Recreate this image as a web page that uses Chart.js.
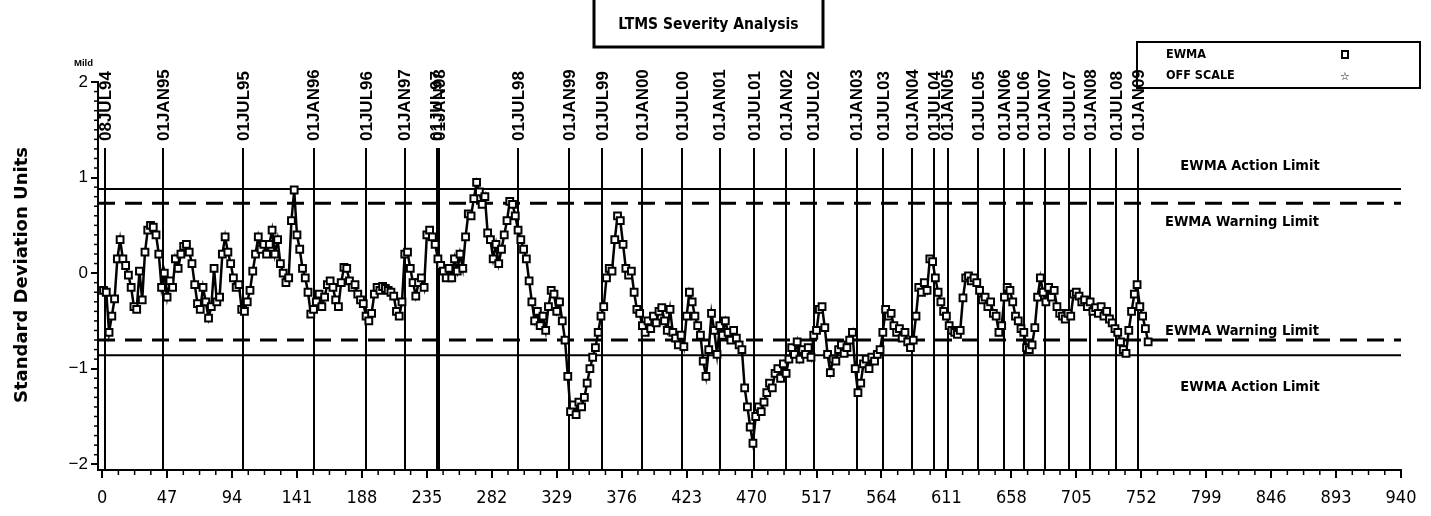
<!DOCTYPE html>
<html>
<head>
<meta charset="utf-8">
<script src="https://cdn.jsdelivr.net/npm/chart.js@4.4.1/dist/chart.umd.min.js"></script>
<style>
  html, body { margin: 0; padding: 0; background: #fff; }
  #wrap { width: 1431px; height: 516px; }
</style>
</head>
<body>
<div id="wrap"><canvas id="ewmaChart" width="1431" height="516"></canvas></div>
<script>
// EWMA severity, every other test (first test = 1)
const firstTest = 1;
const testStep = 2;
const ewma = [
  -0.18, -0.20, -0.62, -0.45, -0.27, 0.15, 0.35, 0.15, 0.08, -0.02,
  -0.15, -0.35, -0.38, 0.02, -0.28, 0.22, 0.45, 0.50, 0.48, 0.40,
  0.20, -0.15, 0.00, -0.25, -0.08, -0.15, 0.15, 0.05, 0.20, 0.28,
  0.30, 0.22, 0.10, -0.12, -0.32, -0.38, -0.15, -0.30, -0.47, -0.35,
  0.05, -0.30, -0.25, 0.20, 0.38, 0.22, 0.10, -0.05, -0.15, -0.12,
  -0.38, -0.40, -0.30, -0.18, 0.02, 0.20, 0.38, 0.25, 0.30, 0.20,
  0.30, 0.45, 0.20, 0.35, 0.10, 0.00, -0.10, -0.05, 0.55, 0.87,
  0.40, 0.25, 0.05, -0.05, -0.20, -0.43, -0.38, -0.30, -0.22, -0.35,
  -0.25, -0.12, -0.08, -0.15, -0.28, -0.35, -0.10, 0.06, 0.05, -0.08,
  -0.15, -0.12, -0.22, -0.28, -0.32, -0.45, -0.50, -0.42, -0.22, -0.15,
  -0.18, -0.14, -0.16, -0.18, -0.20, -0.24, -0.40, -0.45, -0.30, 0.20,
  0.22, 0.05, -0.10, -0.24, -0.10, -0.05, -0.15, 0.40, 0.45, 0.38,
  0.30, 0.15, 0.08, 0.02, -0.05, 0.05, -0.05, 0.15, 0.02, 0.20,
  0.05, 0.38, 0.62, 0.60, 0.78, 0.95, 0.85, 0.72, 0.80, 0.42,
  0.35, 0.15, 0.30, 0.10, 0.25, 0.40, 0.55, 0.75, 0.72, 0.60,
  0.45, 0.35, 0.25, 0.15, -0.08, -0.30, -0.50, -0.40, -0.55, -0.45,
  -0.60, -0.35, -0.18, -0.22, -0.40, -0.30, -0.50, -0.70, -1.08, -1.45,
  -1.38, -1.48, -1.35, -1.40, -1.30, -1.15, -1.00, -0.88, -0.78, -0.62,
  -0.45, -0.35, -0.05, 0.05, 0.02, 0.35, 0.60, 0.55, 0.30, 0.05,
  -0.02, 0.02, -0.20, -0.38, -0.42, -0.55, -0.62, -0.50, -0.58, -0.45,
  -0.52, -0.40, -0.36, -0.50, -0.60, -0.38, -0.62, -0.68, -0.75, -0.65,
  -0.77, -0.45, -0.20, -0.30, -0.45, -0.55, -0.65, -0.92, -1.08, -0.80,
  -0.42, -0.60, -0.85, -0.55, -0.65, -0.50, -0.62, -0.70, -0.60, -0.68,
  -0.75, -0.80, -1.20, -1.40, -1.61, -1.78, -1.50, -1.40, -1.45, -1.35,
  -1.25, -1.15, -1.20, -1.05, -1.00, -1.10, -0.95, -1.05, -0.90, -0.78,
  -0.85, -0.72, -0.90, -0.80, -0.85, -0.78, -0.88, -0.65, -0.60, -0.38,
  -0.35, -0.57, -0.85, -1.04, -0.90, -0.92, -0.80, -0.75, -0.84, -0.78,
  -0.70, -0.62, -1.00, -1.25, -1.15, -0.95, -0.90, -1.00, -0.88, -0.92,
  -0.85, -0.80, -0.62, -0.38, -0.45, -0.42, -0.55, -0.62, -0.58, -0.68,
  -0.62, -0.72, -0.78, -0.70, -0.45, -0.15, -0.20, -0.10, -0.18, 0.15,
  0.12, -0.05, -0.20, -0.30, -0.40, -0.45, -0.55, -0.60, -0.62, -0.64,
  -0.60, -0.26, -0.05, -0.03, -0.08, -0.05, -0.10, -0.18, -0.28, -0.25,
  -0.35, -0.30, -0.42, -0.45, -0.62, -0.55, -0.25, -0.15, -0.18, -0.30,
  -0.45, -0.50, -0.58, -0.62, -0.78, -0.80, -0.75, -0.57, -0.25, -0.05,
  -0.20, -0.30, -0.15, -0.25, -0.18, -0.35, -0.42, -0.45, -0.48, -0.42,
  -0.45, -0.22, -0.20, -0.24, -0.30, -0.28, -0.35, -0.30, -0.40, -0.36,
  -0.42, -0.35, -0.45, -0.40, -0.48, -0.52, -0.58, -0.62, -0.72, -0.80,
  -0.84, -0.60, -0.40, -0.22, -0.12, -0.35, -0.45, -0.58, -0.72
];

const xTickValues = [0, 47, 94, 141, 188, 235, 282, 329, 376, 423, 470,
  517, 564, 611, 658, 705, 752, 799, 846, 893, 940];
const yTickValues = [-2, -1, 0, 1, 2];

const actionLimits = [0.88, -0.86];
const warningLimits = [0.73, -0.70];

const dateLabels = ['08JUL94', '01JAN95', '01JUL95', '01JAN96', '01JUL96', '01JAN97',
  '01JUL97', '01JAN98', '01JUL98', '01JAN99', '01JUL99', '01JAN00', '01JUL00',
  '01JAN01', '01JUL01', '01JAN02', '01JUL02', '01JAN03', '01JUL03', '01JAN04',
  '01JUL04', '01JAN05', '01JUL05', '01JAN06', '01JUL06', '01JAN07', '01JUL07',
  '01JAN08', '01JUL08', '01JAN09'];
const dateTests = [2, 44, 102, 153, 191, 219, 242, 244, 301, 338, 362, 391, 420,
  447, 472, 495, 515, 546, 565, 586, 602, 612, 634, 653, 667, 682, 700,
  715, 734, 750];

const NARROW = '"Liberation Sans Narrow", "DejaVu Sans Condensed", sans-serif';
const SANS = '"Liberation Sans", Arial, sans-serif';

const points = ewma.map((v, i) => ({ x: firstTest + i * testStep, y: v }));

function hline(ctx, area, y, width, dash) {
    ctx.save();
    ctx.lineWidth = width;
    ctx.setLineDash(dash);
    ctx.beginPath();
    ctx.moveTo(area.left, y);
    ctx.lineTo(area.right, y);
    ctx.stroke();
    ctx.restore();
}

const sasDecor = {
    id: 'sasDecor',
    beforeDatasetsDraw(chart) {
        const { ctx, chartArea: area, scales: { x, y } } = chart;
        ctx.save();
        ctx.strokeStyle = '#000';

        // limit lines
        actionLimits.forEach(v => hline(ctx, area, y.getPixelForValue(v), 2, []));
        warningLimits.forEach(v => hline(ctx, area, y.getPixelForValue(v), 3, [17, 10]));

        // date reference lines
        ctx.lineWidth = 2;
        dateTests.forEach(t => {
            const px = Math.round(x.getPixelForValue(t));
            ctx.beginPath();
            ctx.moveTo(px, 148);
            ctx.lineTo(px, area.bottom);
            ctx.stroke();
        });

        // minor ticks
        ctx.lineWidth = 1.5;
        for (let i = -20; i <= 20; i++) {
            if (i % 10 === 0) continue;
            const py = y.getPixelForValue(i / 10);
            ctx.beginPath();
            ctx.moveTo(area.left - 4, py);
            ctx.lineTo(area.left, py);
            ctx.stroke();
        }
        for (let i = 0; i <= 80; i++) {
            if (i % 4 === 0) continue;
            const px = x.getPixelForValue(i * 11.75);
            ctx.beginPath();
            ctx.moveTo(px, area.bottom);
            ctx.lineTo(px, area.bottom + 5);
            ctx.stroke();
        }
        ctx.restore();
    },
    afterDraw(chart) {
        const { ctx, chartArea: area, scales: { x, y } } = chart;
        ctx.save();
        ctx.fillStyle = '#000';
        ctx.strokeStyle = '#000';

        // date labels, rotated
        ctx.font = 'bold 17px ' + SANS;
        ctx.textAlign = 'left';
        ctx.textBaseline = 'middle';
        dateTests.forEach((t, i) => {
            const px = x.getPixelForValue(t) + 1;
            ctx.save();
            ctx.translate(px, 141);
            ctx.rotate(-Math.PI / 2);
            ctx.fillText(dateLabels[i], 0, 0);
            ctx.restore();
        });

        // limit captions
        ctx.font = 'bold 14.5px ' + NARROW;
        ctx.textAlign = 'center';
        ctx.fillText('EWMA Action Limit', 1250, y.getPixelForValue(actionLimits[0]) - 23);
        ctx.fillText('EWMA Warning Limit', 1242, y.getPixelForValue(warningLimits[0]) + 19);
        ctx.fillText('EWMA Warning Limit', 1242, y.getPixelForValue(warningLimits[1]) - 9);
        ctx.fillText('EWMA Action Limit', 1250, y.getPixelForValue(actionLimits[1]) + 32);

        // title box
        ctx.lineWidth = 3;
        ctx.strokeRect(594, -5, 229, 52);
        ctx.font = 'bold 15.5px ' + NARROW;
        ctx.fillText('LTMS Severity Analysis', 708.5, 25);

        // legend box
        ctx.lineWidth = 2;
        ctx.strokeRect(1137, 42, 283, 46);
        ctx.font = 'bold 12.5px ' + NARROW;
        ctx.textAlign = 'left';
        ctx.fillText('EWMA', 1166, 55);
        ctx.fillText('OFF SCALE', 1166, 76);
        ctx.lineWidth = 2;
        ctx.strokeRect(1342, 51, 6, 7);
        ctx.font = '11px "DejaVu Sans", sans-serif';
        ctx.textAlign = 'center';
        ctx.fillText('\u2606', 1345, 77);

        // y axis title and "Mild"
        ctx.save();
        ctx.translate(22, 275);
        ctx.rotate(-Math.PI / 2);
        ctx.font = 'bold 18px "DejaVu Sans", sans-serif';
        ctx.fillText('Standard Deviation Units', 0, 0);
        ctx.restore();
        ctx.font = 'bold 9.5px ' + SANS;
        ctx.textAlign = 'right';
        ctx.fillText('Mild', 93, 63);
        ctx.restore();
    }
};

new Chart(document.getElementById('ewmaChart'), {
    type: 'line',
    data: {
        datasets: [{
            label: 'EWMA',
            data: points,
            borderColor: '#000',
            borderWidth: 2.5,
            tension: 0,
            pointStyle: 'rect',
            pointRadius: 4.8,
            pointBorderWidth: 2,
            pointBackgroundColor: '#fff',
            pointBorderColor: '#000'
        }]
    },
    options: {
        responsive: false,
        devicePixelRatio: 1,
        animation: false,
        layout: { padding: { left: 0, right: 30, top: 82, bottom: 0 } },
        plugins: { legend: { display: false }, tooltip: { enabled: false } },
        scales: {
            x: {
                type: 'linear',
                min: -3,
                max: 940,
                afterFit: s => { s.height = 46; },
                afterBuildTicks: s => { s.ticks = xTickValues.map(v => ({ value: v })); },
                grid: { drawOnChartArea: false, drawTicks: true, tickLength: 8, color: '#000', lineWidth: 2 },
                border: { display: true, color: '#000', width: 2 },
                ticks: {
                    autoSkip: false, maxRotation: 0, color: '#000', padding: 10,
                    font: { family: NARROW, size: 18 }
                }
            },
            y: {
                min: -2.06,
                max: 2,
                afterFit: s => { s.width = 98; },
                afterBuildTicks: s => { s.ticks = yTickValues.map(v => ({ value: v })); },
                grid: { drawOnChartArea: false, drawTicks: true, tickLength: 7, color: '#000', lineWidth: 2 },
                border: { display: true, color: '#000', width: 2 },
                ticks: {
                    color: '#000', padding: 3,
                    font: { family: SANS, size: 17 },
                    callback: v => (v < 0 ? '\u2212' + Math.abs(v) : String(v))
                }
            }
        }
    },
    plugins: [sasDecor]
});
</script>
</body>
</html>
